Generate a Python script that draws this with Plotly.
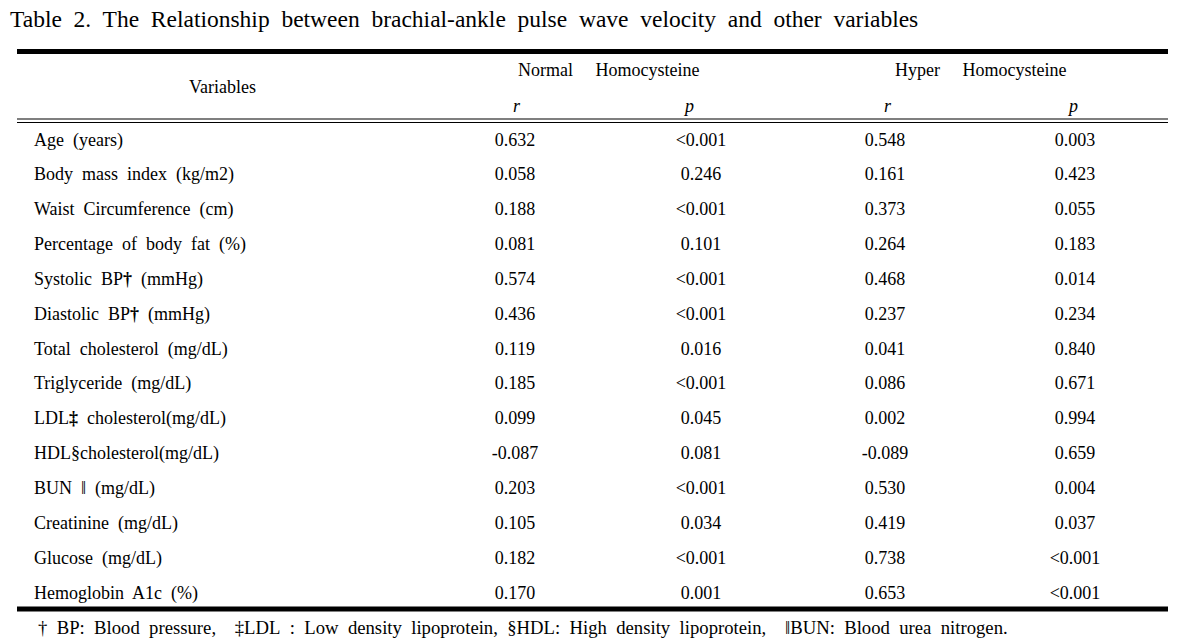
import plotly.graph_objects as go

title_text = "Table 2. The Relationship between brachial-ankle pulse wave velocity and other variables"
variables = ["Age (years)", "Body mass index (kg/m2)", "Waist Circumference (cm)",
             "Percentage of body fat (%)", "Systolic BP<b>†</b> (mmHg)", "Diastolic BP<b>†</b> (mmHg)",
             "Total cholesterol (mg/dL)", "Triglyceride (mg/dL)", "LDL<b>‡</b> cholesterol(mg/dL)",
             "HDL§cholesterol(mg/dL)", "BUN ‖ (mg/dL)", "Creatinine (mg/dL)",
             "Glucose (mg/dL)", "Hemoglobin A1c (%)"]
normal_r = ["0.632", "0.058", "0.188", "0.081", "0.574", "0.436", "0.119", "0.185", "0.099",
            "-0.087", "0.203", "0.105", "0.182", "0.170"]
normal_p = ["<0.001", "0.246", "<0.001", "0.101", "<0.001", "<0.001", "0.016", "<0.001", "0.045",
            "0.081", "<0.001", "0.034", "<0.001", "0.001"]
hyper_r = ["0.548", "0.161", "0.373", "0.264", "0.468", "0.237", "0.041", "0.086", "0.002",
           "-0.089", "0.530", "0.419", "0.738", "0.653"]
hyper_p = ["0.003", "0.423", "0.055", "0.183", "0.014", "0.234", "0.840", "0.671", "0.994",
           "0.659", "0.004", "0.037", "<0.001", "<0.001"]
group_headers = ["Normal\u00a0\u00a0\u00a0\u00a0\u00a0Homocysteine", "Hyper\u00a0\u00a0\u00a0\u00a0\u00a0Homocysteine"]
sub_headers = ["<i>r</i>", "<i>p</i>", "<i>r</i>", "<i>p</i>"]
footnote = ("† BP: Blood pressure,  ‡LDL : Low density lipoprotein, §HDL: High density lipoprotein,  "
            "‖BUN: Blood urea nitrogen.")

W, H = 1189, 643
FONT = "Liberation Serif"
FS = 18


def spaced(s):
    return s.replace(" ", "\u00a0 ")


row_y0, row_dy = 141, 34.85
ys = [row_y0 + i * row_dy for i in range(len(variables))]

fig = go.Figure()
fig.add_trace(go.Scatter(x=[34] * len(variables), y=ys, mode="text",
                         text=[spaced(v) for v in variables], textposition="middle right",
                         textfont=dict(family=FONT, size=FS, color="black"), hoverinfo="skip"))
for col_x, vals in [(515, normal_r), (701, normal_p), (885, hyper_r), (1075, hyper_p)]:
    fig.add_trace(go.Scatter(x=[col_x] * len(vals), y=ys, mode="text", text=vals,
                             textposition="middle center",
                             textfont=dict(family=FONT, size=FS, color="black"), hoverinfo="skip"))

ann = []
ann.append(dict(x=8, y=19, text=spaced(title_text), xanchor="left", yanchor="middle",
                font=dict(family=FONT, size=23.5, color="black")))
ann.append(dict(x=222, y=87, text="Variables", xanchor="center", yanchor="middle",
                font=dict(family=FONT, size=FS, color="black")))
for gx, gt in zip([608, 980], group_headers):
    ann.append(dict(x=gx, y=70, text=gt, xanchor="center", yanchor="middle",
                    font=dict(family=FONT, size=FS, color="black")))
for sx, st in zip([517, 688, 888, 1072], sub_headers):
    ann.append(dict(x=sx, y=106, text=st, xanchor="center", yanchor="middle",
                    font=dict(family=FONT, size=FS, color="black")))
ann.append(dict(x=36, y=627, text=spaced(footnote), xanchor="left", yanchor="middle",
                font=dict(family=FONT, size=18.7, color="black")))
for a in ann:
    a.update(xref="x", yref="y", showarrow=False)

shapes = [
    dict(type="line", x0=17, x1=1168, y0=51.5, y1=51.5, line=dict(color="black", width=5)),
    dict(type="line", x0=17, x1=1168, y0=119, y1=119, line=dict(color="black", width=1.2)),
    dict(type="line", x0=17, x1=1168, y0=122.5, y1=122.5, line=dict(color="black", width=1.2)),
    dict(type="line", x0=17, x1=1168, y0=609, y1=609, line=dict(color="black", width=5)),
]
for s in shapes:
    s.update(xref="x", yref="y")

fig.update_layout(width=W, height=H, margin=dict(l=0, r=0, t=0, b=0),
                  paper_bgcolor="white", plot_bgcolor="white", showlegend=False,
                  annotations=ann, shapes=shapes,
                  xaxis=dict(range=[0, W], visible=False, fixedrange=True),
                  yaxis=dict(range=[H, 0], visible=False, fixedrange=True))
fig.write_html("out.html", config={"displayModeBar": False},
               post_script="document.body.style.margin='0';document.body.style.overflow='hidden';")
